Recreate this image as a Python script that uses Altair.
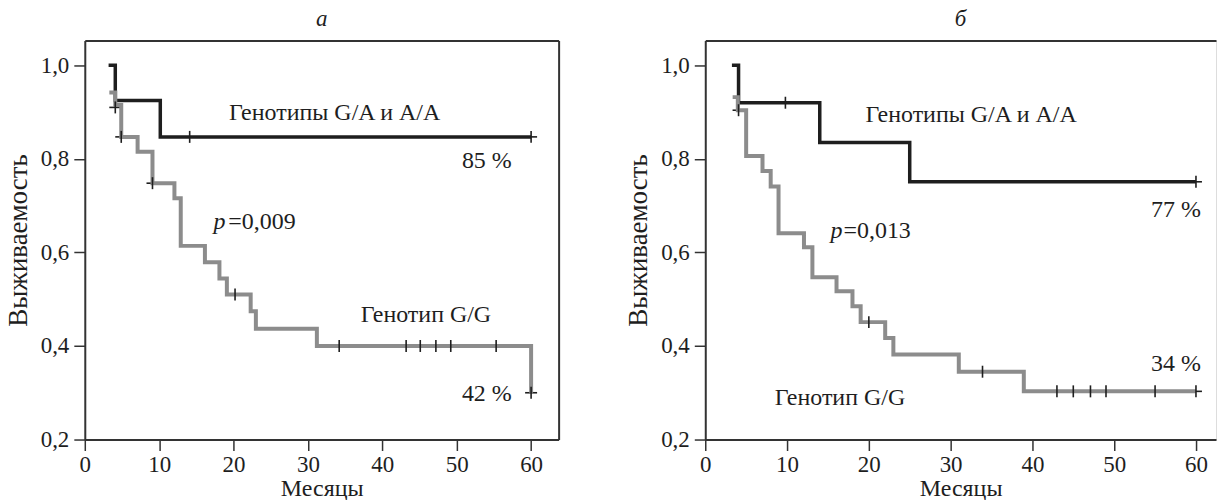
import altair as alt
import pandas as pd

FONT = "Times New Roman, Liberation Serif, serif"
INK = "#1e1e1e"
FRAME = "#333333"
GREY = "#8c8c8c"

# ---- panel а ----
a_ga_t = [3.2, 4.1, 10.15, 60.0]
a_ga_s = [1.0, 0.925, 0.847, 0.847]
a_gg_t = [3.3, 4.1, 4.9, 7.1, 9.1, 12.05, 12.9, 16.15, 18.1, 19.1, 22.3, 23.0, 31.2, 60.0]
a_gg_s = [0.942, 0.915, 0.847, 0.815, 0.748, 0.716, 0.614, 0.579, 0.544, 0.510, 0.474, 0.437, 0.400, 0.300]
a_cens_t = [14.1, 60.0, 4.1, 4.9, 9.1, 20.2, 34.2, 43.2, 45.1, 47.2, 49.2, 55.3, 60.0]
a_cens_s = [0.847, 0.847, 0.910, 0.847, 0.748, 0.510, 0.400, 0.400, 0.400, 0.400, 0.400, 0.400, 0.300]

# ---- panel б ----
b_ga_t = [3.26, 4.07, 14.0, 25.0, 60.0]
b_ga_s = [1.0, 0.920, 0.835, 0.751, 0.751]
b_gg_t = [3.35, 3.98, 5.0, 7.0, 8.0, 8.96, 12.07, 13.1, 16.05, 18.0, 19.0, 22.0, 23.0, 31.0, 38.95, 60.0]
b_gg_s = [0.932, 0.904, 0.806, 0.774, 0.741, 0.641, 0.611, 0.547, 0.517, 0.485, 0.451, 0.417, 0.382, 0.345, 0.303, 0.303]
b_cens_t = [9.8, 60.0, 4.07, 20.0, 33.9, 43.0, 45.0, 47.1, 49.0, 55.0, 60.0]
b_cens_s = [0.920, 0.751, 0.904, 0.451, 0.345, 0.303, 0.303, 0.303, 0.303, 0.303, 0.303]

x_ticks = [0, 10, 20, 30, 40, 50, 60]
y_ticks = [0.2, 0.4, 0.6, 0.8, 1.0]

a_notes = [
    {"t": 19.4, "s": 0.897, "label": "Генотипы G/A и A/A", "align": "left", "style": "normal"},
    {"t": 57.4, "s": 0.796, "label": "85 %", "align": "right", "style": "normal"},
    {"t": 17.3, "s": 0.666, "label": "p", "align": "left", "style": "italic"},
    {"t": 19.3, "s": 0.666, "label": "=0,009", "align": "left", "style": "normal"},
    {"t": 37.1, "s": 0.467, "label": "Генотип G/G", "align": "left", "style": "normal"},
    {"t": 57.4, "s": 0.297, "label": "42 %", "align": "right", "style": "normal"},
]
b_notes = [
    {"t": 19.6, "s": 0.893, "label": "Генотипы G/A и A/A", "align": "left", "style": "normal"},
    {"t": 60.6, "s": 0.691, "label": "77 %", "align": "right", "style": "normal"},
    {"t": 15.3, "s": 0.645, "label": "p", "align": "left", "style": "italic"},
    {"t": 16.9, "s": 0.645, "label": "=0,013", "align": "left", "style": "normal"},
    {"t": 8.5, "s": 0.289, "label": "Генотип G/G", "align": "left", "style": "normal"},
    {"t": 60.6, "s": 0.361, "label": "34 %", "align": "right", "style": "normal"},
]

Y_LABEL = "replace(format(datum.value, '.1f'), '.', ',')"


def panel(title, ga_t, ga_s, gg_t, gg_s, c_t, c_s, notes, xmax, width, frame_right):
    ga = pd.DataFrame({"t": ga_t, "s": ga_s})
    gg = pd.DataFrame({"t": gg_t, "s": gg_s})
    cens = pd.DataFrame({"t": c_t, "s": c_s})

    xs = alt.Scale(domain=[0, xmax], nice=False, zero=False)
    ys = alt.Scale(domain=[0.2, 1.053], nice=False, zero=False)

    main_x = alt.Axis(orient="bottom", values=x_ticks, grid=False, labelFlush=False,
                      labelFont=FONT, labelFontSize=23, labelColor=INK, labelPadding=3,
                      tickSize=11, tickWidth=1.5, tickColor=FRAME,
                      domainColor=FRAME, domainWidth=2,
                      title="Месяцы", titleFont=FONT, titleFontSize=24,
                      titleFontWeight="normal", titleColor=INK, titlePadding=0)
    main_y = alt.Axis(orient="left", values=y_ticks, grid=False, labelFlush=False,
                      labelExpr=Y_LABEL,
                      labelFont=FONT, labelFontSize=23, labelColor=INK, labelPadding=5,
                      tickSize=11, tickWidth=1.5, tickColor=FRAME,
                      domainColor=FRAME, domainWidth=2,
                      title="Выживаемость", titleFont=FONT, titleFontSize=27,
                      titleFontWeight="normal", titleColor=INK, titlePadding=8)
    top_x = alt.Axis(orient="top", labels=False, ticks=False, grid=False, title=None,
                     domainColor=FRAME, domainWidth=2)
    right_y = (alt.Axis(orient="right", labels=False, ticks=False, grid=False, title=None,
                        domainColor=FRAME, domainWidth=2) if frame_right else None)

    # horizontal arms of the censoring crosses sit under the curves
    arms = alt.Chart(cens).mark_point(
        shape="M-1,0L1,0", filled=False, stroke=INK, strokeWidth=1.6, size=144, opacity=1
    ).encode(x=alt.X("t:Q", scale=xs, axis=main_x), y=alt.Y("s:Q", scale=ys, axis=main_y))

    black = alt.Chart(ga).mark_line(
        interpolate="step-after", color=INK, strokeWidth=3.5, strokeCap="butt"
    ).encode(x=alt.X("t:Q", scale=xs, axis=top_x), y=alt.Y("s:Q", scale=ys, axis=right_y))

    grey = alt.Chart(gg).mark_line(
        interpolate="step-after", color=GREY, strokeWidth=4, strokeCap="butt"
    ).encode(x=alt.X("t:Q", scale=xs, axis=None), y=alt.Y("s:Q", scale=ys, axis=None))

    # vertical arms drawn over the curves
    ticks = alt.Chart(cens).mark_point(
        shape="M0,-1L0,1", filled=False, stroke=INK, strokeWidth=1.6, size=144, opacity=1
    ).encode(x=alt.X("t:Q", scale=xs, axis=None), y=alt.Y("s:Q", scale=ys, axis=None))

    layers = [arms, black, grey, ticks]
    nd = pd.DataFrame(notes)
    for align in ("left", "right"):
        for style in ("normal", "italic"):
            sub = nd[(nd["align"] == align) & (nd["style"] == style)]
            if len(sub) == 0:
                continue
            layers.append(
                alt.Chart(sub).mark_text(
                    align=align, baseline="middle", font=FONT, fontSize=24,
                    fontStyle=style, color=INK
                ).encode(x=alt.X("t:Q", scale=xs, axis=None),
                         y=alt.Y("s:Q", scale=ys, axis=None),
                         text="label:N")
            )

    return alt.layer(*layers).resolve_axis(x="independent", y="independent").properties(
        width=width, height=400,
        title=alt.TitleParams(title, font=FONT, fontSize=23, fontStyle="italic",
                              fontWeight="normal", color=INK, anchor="middle", offset=10),
    )


left = panel("а", a_ga_t, a_ga_s, a_gg_t, a_gg_s, a_cens_t, a_cens_s, a_notes, 63.7, 475, True)
right = panel("б", b_ga_t, b_ga_s, b_gg_t, b_gg_s, b_cens_t, b_cens_s, b_notes, 62.45, 512, False)

chart = alt.hconcat(left, right, spacing=64).properties(
    padding={"left": 3, "top": 6, "right": 0, "bottom": 0}
).configure_view(stroke=None).configure(background="white")

chart.save("out.html", embed_options={"renderer": "svg", "actions": False})
